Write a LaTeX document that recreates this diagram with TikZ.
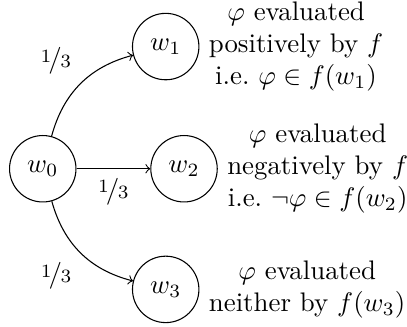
\documentclass[tikz,border=0pt]{standalone}
\usepackage{amsmath,amssymb}
\usepackage{nicefrac}
\usetikzlibrary{positioning}
\begin{document}
\begin{tikzpicture}[world/.style={draw,circle,minimum size=0.87cm,inner sep=0pt},
          ar/.style={->},
          desc/.style={align=center}]
        \useasboundingbox (-0.56,-2.07) rectangle (4.77,2.21);
        \node[world] (w0) at (0,0) {$w_0$};
        \node[world] (w1) at (1.61,1.6) {$w_1$};
        \node[world] (w2) at (1.85,0) {$w_2$};
        \node[world] (w3) at (1.61,-1.58) {$w_3$};
        \node[desc, right=0pt of w1] (t1)
        {$\varphi$ evaluated\\positively by $f$\\i.e.\ $\varphi\in f(w_1)$};
        \node[desc, right=0pt of w2] (t2)
        {$\varphi$ evaluated\\negatively by $f$\\i.e.\ $\neg\varphi\in f(w_2)$};
        \node[desc, right=0pt of w3] (t3)
        {$\varphi$ evaluated\\neither by $f(w_3)$};
        \draw[ar] (w0) to[bend left] node[pos=.5, above left] {$\nicefrac{1}{3}$} (w1);
        \draw[ar] (w0) -- node[below] {$\nicefrac{1}{3}$} (w2);
        \draw[ar] (w0) to[bend right] node[pos=.5, below left] {$\nicefrac{1}{3}$} (w3);
      \end{tikzpicture}
\end{document}
